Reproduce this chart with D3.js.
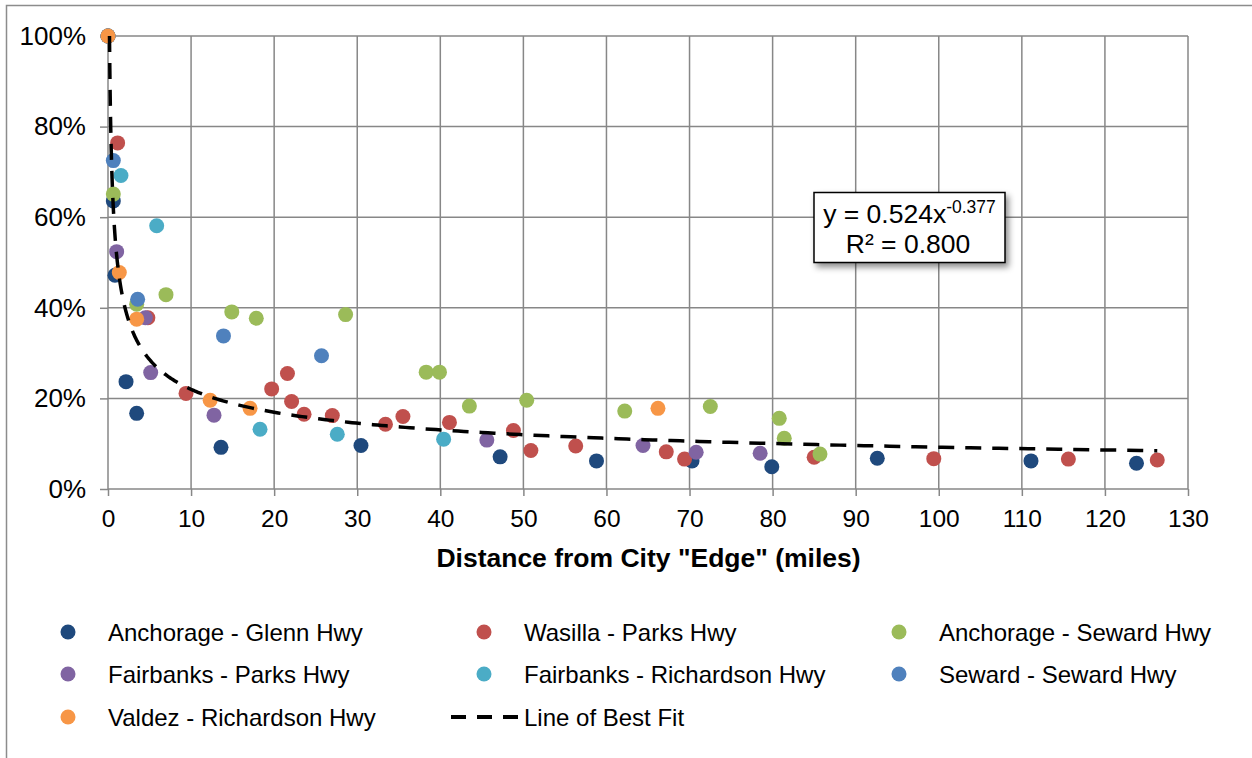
<!DOCTYPE html>
<html>
<head>
<meta charset="utf-8">
<script src="https://cdn.jsdelivr.net/npm/d3@7"></script>
<style>
  html, body { margin: 0; padding: 0; background: #ffffff; }
  svg { display: block; font-family: "Liberation Sans", Arial, sans-serif; }
</style>
</head>
<body>
<svg id="chart" width="1252" height="758"></svg>
<script>
// Share of edge traffic vs. distance from the city edge, by highway.
const seriesNames = [
  "Anchorage - Glenn Hwy",
  "Wasilla - Parks Hwy",
  "Anchorage - Seward Hwy",
  "Fairbanks - Parks Hwy",
  "Fairbanks - Richardson Hwy",
  "Seward - Seward Hwy",
  "Valdez - Richardson Hwy"
];
const seriesColors = ["#1F497D", "#C0504D", "#9BBB59", "#8064A2", "#4BACC6", "#4F81BD", "#F79646"];

// [miles, share]
const anchorageGlenn = [
  [0, 1.00], [0.64, 0.636], [0.84, 0.472], [2.17, 0.237], [3.45, 0.167], [13.6, 0.092],
  [30.45, 0.096], [47.2, 0.071], [58.8, 0.062], [70.3, 0.062], [79.9, 0.049],
  [92.6, 0.068], [111.1, 0.062], [123.8, 0.057]
];
const wasillaParks = [
  [0, 1.00], [1.16, 0.764], [4.8, 0.378], [9.39, 0.211], [19.7, 0.221], [21.6, 0.255],
  [22.1, 0.193], [23.6, 0.165], [27.0, 0.162], [33.4, 0.143], [35.5, 0.160],
  [41.1, 0.147], [48.8, 0.129], [50.9, 0.085], [56.3, 0.095], [67.2, 0.082],
  [69.4, 0.066], [85.0, 0.070], [99.4, 0.067], [115.6, 0.066], [126.3, 0.064]
];
const anchorageSeward = [
  [0, 1.00], [0.64, 0.651], [3.45, 0.408], [6.98, 0.429], [14.9, 0.391], [17.85, 0.377],
  [28.6, 0.385], [38.3, 0.258], [39.9, 0.258], [43.5, 0.183], [50.4, 0.196],
  [62.2, 0.172], [72.5, 0.182], [80.8, 0.156], [81.4, 0.112], [85.7, 0.077]
];
const fairbanksParks = [
  [0, 1.00], [1.04, 0.524], [4.5, 0.378], [5.14, 0.257], [12.76, 0.163], [45.6, 0.108],
  [64.4, 0.096], [70.8, 0.081], [78.5, 0.079]
];
const fairbanksRichardson = [
  [0, 1.00], [1.56, 0.692], [5.86, 0.581], [18.3, 0.132], [27.6, 0.121], [40.4, 0.110]
];
const sewardSeward = [
  [0, 1.00], [0.64, 0.725], [3.57, 0.419], [13.9, 0.338], [25.7, 0.294]
];
const valdezRichardson = [
  [0, 1.00], [1.36, 0.478], [3.45, 0.375], [12.3, 0.196], [17.1, 0.178], [66.2, 0.178]
];
const seriesValues = [anchorageGlenn, wasillaParks, anchorageSeward, fairbanksParks,
  fairbanksRichardson, sewardSeward, valdezRichardson];

const xTicks = [0, 10, 20, 30, 40, 50, 60, 70, 80, 90, 100, 110, 120, 130];
const yTicks = [0, 0.2, 0.4, 0.6, 0.8, 1.0];

// Power trendline y = a * x^b
const fitA = 0.524, fitB = -0.377;
const fitRange = [0.18, 126.3];
const fitLabel = { coef: "y = 0.524x", exp: "-0.377", r2: "R² = 0.800" };
const xTitle = 'Distance from City "Edge" (miles)';

const svg = d3.select("#chart");
const gridColor = "#878787";

// outer frame
svg.append("rect").attr("x", 6.5).attr("y", 5.5).attr("width", 1260).attr("height", 800)
  .attr("fill", "none").attr("stroke", "#8c8c8c").attr("stroke-width", 1.5);

const x = d3.scaleLinear().domain([0, 130]).range([108, 1188]);
const y = d3.scaleLinear().domain([0, 1]).range([489, 36]);

// vertical gridlines + x tick labels
const xAxis = svg.append("g").attr("transform", `translate(0,${y(0)})`)
  .call(d3.axisBottom(x).tickValues(xTicks).tickSize(7).tickPadding(14).tickFormat(d3.format("d")));
xAxis.select(".domain").remove();
xAxis.selectAll(".tick line").attr("stroke", gridColor).attr("stroke-width", 1.5);
xAxis.selectAll(".tick text").attr("fill", "#000").attr("font-size", 24.5)
  .attr("font-family", "Liberation Sans, Arial, sans-serif");
svg.append("g").selectAll("line").data(xTicks).join("line")
  .attr("x1", d => x(d)).attr("x2", d => x(d)).attr("y1", y(1)).attr("y2", y(0))
  .attr("stroke", gridColor).attr("stroke-width", 1.5);

// horizontal gridlines + y tick labels
const yAxis = svg.append("g").attr("transform", `translate(${x(0)},0)`)
  .call(d3.axisLeft(y).tickValues(yTicks).tickSize(8).tickPadding(14).tickFormat(d3.format(".0%")));
yAxis.select(".domain").remove();
yAxis.selectAll(".tick line").attr("stroke", gridColor).attr("stroke-width", 1.5);
yAxis.selectAll(".tick text").attr("fill", "#000").attr("font-size", 26)
  .attr("font-family", "Liberation Sans, Arial, sans-serif");
svg.append("g").selectAll("line").data(yTicks).join("line")
  .attr("x1", x(0)).attr("x2", x(130)).attr("y1", d => y(d)).attr("y2", d => y(d))
  .attr("stroke", gridColor).attr("stroke-width", 1.5);

// x axis title
svg.append("text").attr("x", 648.5).attr("y", 567).attr("text-anchor", "middle")
  .attr("font-size", 26.5).attr("font-weight", "bold").text(xTitle);

// points
seriesValues.forEach((vals, i) => {
  svg.append("g").selectAll("circle").data(vals).join("circle")
    .attr("cx", d => x(d[0])).attr("cy", d => y(d[1])).attr("r", 7.5)
    .attr("fill", seriesColors[i]);
});

// trendline
const fitPts = d3.range(0, 401).map(k => {
  const t = k / 400;
  const xv = Math.exp(Math.log(fitRange[0]) + t * (Math.log(fitRange[1]) - Math.log(fitRange[0])));
  return [xv, fitA * Math.pow(xv, fitB)];
});
svg.append("path").datum(fitPts)
  .attr("d", d3.line().x(d => x(d[0])).y(d => y(d[1])))
  .attr("fill", "none").attr("stroke", "#000").attr("stroke-width", 3.5)
  .attr("stroke-dasharray", "16,11");

// equation box
const defs = svg.append("defs");
const f = defs.append("filter").attr("id", "shadow").attr("x", "-20%").attr("y", "-20%")
  .attr("width", "140%").attr("height", "150%");
f.append("feDropShadow").attr("dx", 3).attr("dy", 4).attr("stdDeviation", 3)
  .attr("flood-color", "#000").attr("flood-opacity", 0.45);
svg.append("rect").attr("x", 814).attr("y", 192.5).attr("width", 191).attr("height", 70)
  .attr("fill", "#fff").attr("stroke", "#000").attr("stroke-width", 1.5)
  .attr("filter", "url(#shadow)");
const eq = svg.append("text").attr("x", 909.5).attr("y", 223).attr("text-anchor", "middle")
  .attr("font-size", 26.5);
eq.append("tspan").text(fitLabel.coef);
eq.append("tspan").attr("dy", -10).attr("font-size", 17.5).text(fitLabel.exp);
svg.append("text").attr("x", 908).attr("y", 253).attr("text-anchor", "middle")
  .attr("font-size", 26.5).text(fitLabel.r2);

// legend
const legendCols = [68, 484, 899];
const legendRows = [632, 674, 717];
seriesNames.forEach((name, i) => {
  const cx = legendCols[i % 3], cy = legendRows[Math.floor(i / 3)];
  svg.append("circle").attr("cx", cx).attr("cy", cy).attr("r", 7.5).attr("fill", seriesColors[i]);
  svg.append("text").attr("x", cx + 40).attr("y", cy + 8.5).attr("font-size", 24).text(name);
});
svg.append("line").attr("x1", 451).attr("x2", 522).attr("y1", 717).attr("y2", 717)
  .attr("stroke", "#000").attr("stroke-width", 4).attr("stroke-dasharray", "15,11");
svg.append("text").attr("x", 524).attr("y", 725.5).attr("font-size", 24).text("Line of Best Fit");
</script>
</body>
</html>
